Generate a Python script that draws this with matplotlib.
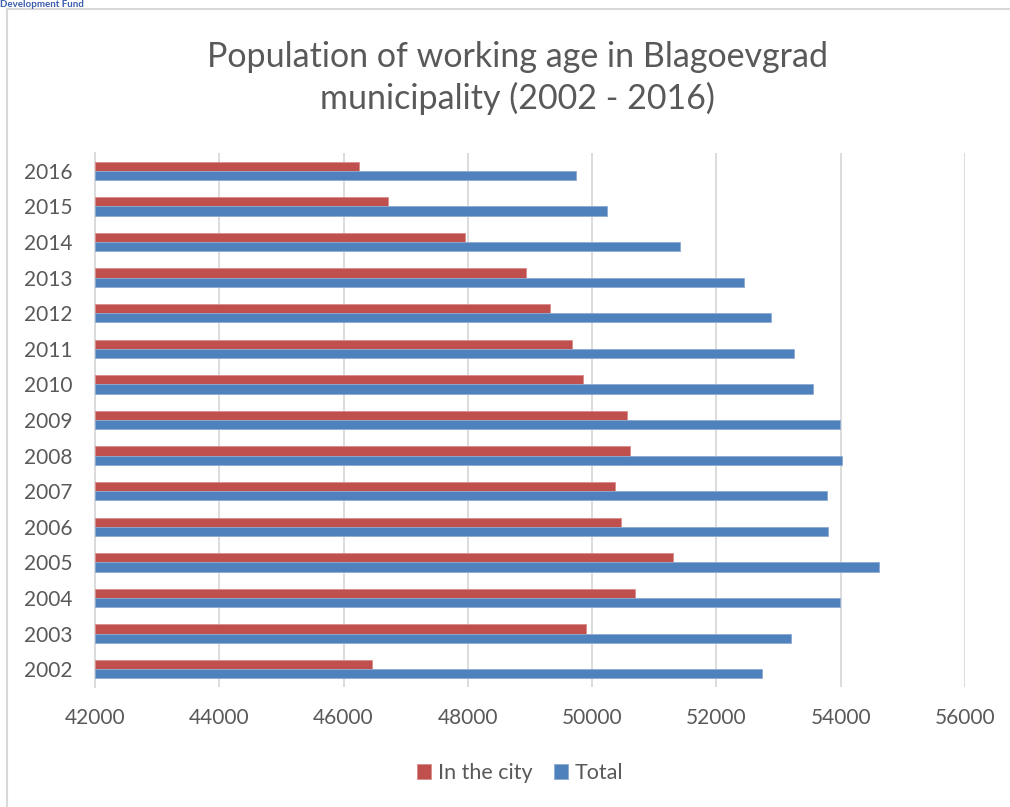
import matplotlib
matplotlib.use('Agg')
import matplotlib.pyplot as plt
import numpy as np
from matplotlib.lines import Line2D

years = ['2002', '2003', '2004', '2005', '2006', '2007', '2008', '2009',
         '2010', '2011', '2012', '2013', '2014', '2015', '2016']
in_city = [46463, 49899, 50682, 51299, 50460, 50374, 50614, 50565,
           49857, 49676, 49320, 48931, 47954, 46717, 46248]
total = [52736, 53193, 53989, 54624, 53797, 53785, 54013, 53982,
         53555, 53255, 52877, 52442, 51409, 50240, 49744]
xticks = [42000, 44000, 46000, 48000, 50000, 52000, 54000, 56000]

RED = '#C0504D'
BLUE = '#4F81BD'
GRID = '#D9D9D9'
TEXT = '#595959'

plt.rcParams['font.family'] = ['Lato', 'DejaVu Sans']

fig = plt.figure(figsize=(10.1, 8.07), dpi=100)
ax = fig.add_axes([95 / 1010, 1 - 687 / 807, 870 / 1010, 534 / 807])

y = np.arange(len(years))
h = 0.26
ax.barh(y + h / 2, np.array(in_city) - 42000, left=42000, height=h, color=RED,
        edgecolor='#D98C8A', linewidth=0.6, label='In the city', zorder=3)
ax.barh(y - h / 2, np.array(total) - 42000, left=42000, height=h, color=BLUE,
        edgecolor='#8DAAD3', linewidth=0.6, label='Total', zorder=3)

ax.set_xlim(42000, 56000)
ax.set_ylim(-0.5, len(years) - 0.5)
ax.set_xticks(xticks)
ax.set_xticklabels([str(v) for v in xticks])
ax.set_yticks(y)
ax.set_yticklabels(years)
ax.tick_params(axis='both', length=0, labelsize=15, colors=TEXT)
ax.tick_params(axis='x', pad=15)
ax.tick_params(axis='y', pad=16)
ax.grid(axis='x', color=GRID, linewidth=1.3, zorder=0)
for s in ['top', 'right', 'bottom']:
    ax.spines[s].set_visible(False)
ax.spines['left'].set_color(GRID)
ax.spines['left'].set_linewidth(1.3)

fig.text(0.512, 1 - 78 / 807,
         'Population of working age in Blagoevgrad\nmunicipality (2002 - 2016)',
         ha='center', va='center', fontsize=24.5, color=TEXT, linespacing=1.3)

ax.legend(loc='center', bbox_to_anchor=(0.515, 1 - 773 / 807), bbox_transform=fig.transFigure,
          ncol=2, frameon=False, fontsize=15.5, labelcolor=TEXT,
          handlelength=0.65, handleheight=0.65, handletextpad=0.3, columnspacing=1.0)

# chart area border and logo text at top left
fig.add_artist(Line2D([7 / 1010, 7 / 1010], [0, 1 - 9 / 807], color=GRID, linewidth=1.5))
fig.add_artist(Line2D([7 / 1010, 1], [1 - 9 / 807, 1 - 9 / 807], color=GRID, linewidth=1.5))
fig.text(0, 1, 'Development Fund', ha='left', va='top',
         fontsize=7, fontweight='bold', color='#3A5DAE')

fig.savefig('out.png', dpi=100)
